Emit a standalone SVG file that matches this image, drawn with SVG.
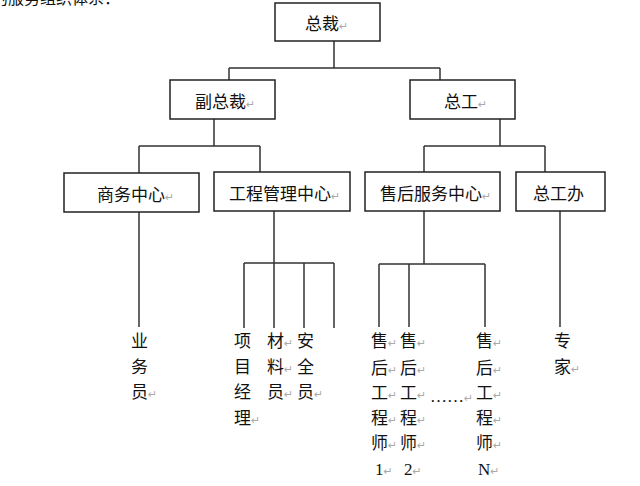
<svg xmlns="http://www.w3.org/2000/svg" width="640" height="486" viewBox="0 0 640 486">
<style>
.box{fill:#fff;stroke:#222;stroke-width:1.5}
.ln{stroke:#333;stroke-width:1.5;fill:none}
.t{font-family:"Noto Sans CJK SC","Noto Sans",sans-serif;font-size:17px;fill:#111}
.r{font-family:"DejaVu Sans",sans-serif;font-size:11px;fill:#aaa}
.n{font-family:"Liberation Serif",serif;font-size:17px;fill:#111}
</style>
<rect width="640" height="486" fill="#fff"/>
<text x="-8" y="3.5" class="t" style="font-size:16px">的服务组织体系：</text>
<g id="connectors">
<path class="ln" d="M334 41V68M229 68H440M229 68V80M440 68V80"/>
<path class="ln" d="M214 119V146M139 146H260M139 146V173M260 146V172"/>
<path class="ln" d="M500 119V146M424 146H545M424 146V172M545 146V172"/>
<path class="ln" d="M139 212V327"/>
<path class="ln" d="M274 211V263M244 263H334M244 263V328M274 263V328M304 263V328M334 263V328"/>
<path class="ln" d="M424 211V264M379 264H485M379 264V327M409 264V327M485 264V327"/>
<path class="ln" d="M560 211V327"/>
</g>
<g id="n-zongcai"><rect class="box" x="275" y="3" width="105" height="38"/><text class="t" x="305" y="30">总裁<tspan class="r">↵</tspan></text></g>
<g id="n-fuzongcai"><rect class="box" x="170" y="80" width="105" height="39"/><text class="t" x="195" y="108">副总裁<tspan class="r">↵</tspan></text></g>
<g id="n-zonggong"><rect class="box" x="410" y="80" width="105" height="39"/><text class="t" x="444" y="108">总工<tspan class="r">↵</tspan></text></g>
<g id="n-shangwu"><rect class="box" x="64" y="173" width="135" height="39"/><text class="t" x="97" y="201">商务中心<tspan class="r">↵</tspan></text></g>
<g id="n-gongcheng"><rect class="box" x="214" y="172" width="136" height="39"/><text class="t" x="229" y="200">工程管理中心<tspan class="r">↵</tspan></text></g>
<g id="n-shouhou"><rect class="box" x="365" y="172" width="135" height="39"/><text class="t" x="380" y="200">售后服务中心<tspan class="r">↵</tspan></text></g>
<g id="n-zonggongban"><rect class="box" x="516" y="172" width="89" height="39"/><text class="t" x="533" y="200">总工办</text></g>
<g id="n-yewuyuan" class="t">
<text x="131" y="347">业</text><text x="131" y="373">务</text><text x="131" y="398">员<tspan class="r">↵</tspan></text>
</g>
<g id="n-xiangmujingli" class="t">
<text x="234" y="347">项</text><text x="234" y="373">目</text><text x="234" y="398">经</text><text x="234" y="424">理<tspan class="r">↵</tspan></text>
</g>
<g id="n-cailiaoyuan" class="t">
<text x="267" y="347">材<tspan class="r">↵</tspan></text><text x="267" y="373">料<tspan class="r">↵</tspan></text><text x="267" y="398">员<tspan class="r">↵</tspan></text>
</g>
<g id="n-anquanyuan" class="t">
<text x="297" y="347">安</text><text x="297" y="373">全</text><text x="297" y="398">员<tspan class="r">↵</tspan></text>
</g>
<g id="n-gcs1" class="t">
<text x="371" y="347">售<tspan class="r">↵</tspan></text><text x="371" y="374">后<tspan class="r">↵</tspan></text><text x="371" y="399">工<tspan class="r">↵</tspan></text><text x="371" y="424">程<tspan class="r">↵</tspan></text><text x="371" y="449">师<tspan class="r">↵</tspan></text><text class="n" x="375" y="475">1<tspan class="r">↵</tspan></text>
</g>
<g id="n-gcs2" class="t">
<text x="400" y="347">售<tspan class="r">↵</tspan></text><text x="400" y="374">后<tspan class="r">↵</tspan></text><text x="400" y="399">工<tspan class="r">↵</tspan></text><text x="400" y="424">程<tspan class="r">↵</tspan></text><text x="400" y="449">师<tspan class="r">↵</tspan></text><text class="n" x="404" y="475">2<tspan class="r">↵</tspan></text>
</g>
<g id="n-ellipsis"><text class="n" x="430" y="402">……<tspan class="r">↵</tspan></text></g>
<g id="n-gcsN" class="t">
<text x="476" y="347">售<tspan class="r">↵</tspan></text><text x="476" y="374">后<tspan class="r">↵</tspan></text><text x="476" y="399">工<tspan class="r">↵</tspan></text><text x="476" y="424">程<tspan class="r">↵</tspan></text><text x="476" y="449">师<tspan class="r">↵</tspan></text><text class="n" x="478" y="475">N<tspan class="r">↵</tspan></text>
</g>
<g id="n-zhuanjia" class="t">
<text x="554" y="347">专</text><text x="554" y="373">家<tspan class="r">↵</tspan></text>
</g>
</svg>
